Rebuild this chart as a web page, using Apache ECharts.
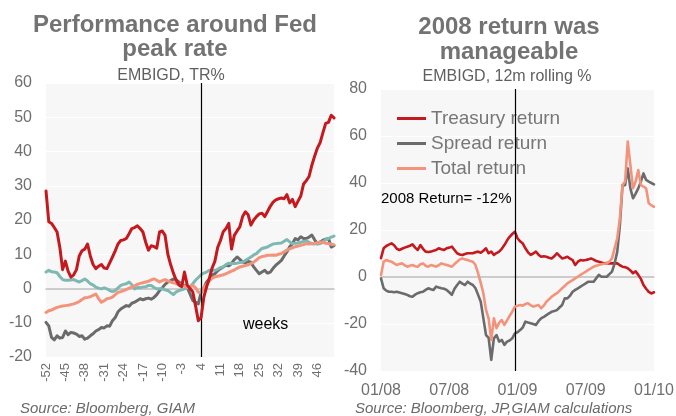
<!DOCTYPE html>
<html>
<head>
<meta charset="utf-8">
<script src="https://cdn.jsdelivr.net/npm/echarts@6/dist/echarts.min.js"></script>
<style>
  html, body { margin: 0; padding: 0; background: #ffffff; }
  #chart { width: 676px; height: 416px; }
</style>
</head>
<body>
<div id="chart"></div>
<script>
// ---- Left panel: EMBIGD total return around the Fed peak rate (weeks -52..52) ----
const leftWeeks = [];
for (let w = -52; w <= 52; w++) leftWeeks.push(String(w));
const leftPeakWeek = '4';

const leftRed = [
  28.5, 19.5, 19, 17.8, 16.5, 12, 5.5, 8, 5, 3.3, 4, 5.5, 9.5, 11, 11.5, 13, 9.5, 7, 5.8, 6.5,
  7, 6, 5.8, 7.5, 9.2, 11, 13, 14, 14.2, 14.6, 16, 17.5, 17.8, 18.3, 17.5, 16.5, 13.5, 11.2, 12.5, 12.2,
  11.8, 16.5, 16.8, 15.5, 10, 7, 4.5, 2.5, 1, 0.5, 4.8, 1,
  0, -1, -5, -9.4, -8.5, -2.5, 0.5, 3, 6, 8, 12, 14, 16.6, 17.5, 19, 11.5, 15.5, 16.8, 18, 21,
  22.4, 21.5, 18.5, 20, 21, 21.8, 22, 21, 22.5, 24, 25.2, 25.9, 26.2, 26.4, 26.2, 27.4, 25, 26, 23.9, 25.5,
  27, 30.5, 31.5, 32.7, 36, 38.6, 41, 42.6, 45.5, 48.2, 48.5, 50.6, 49.8
];
const leftGray = [
  -9.9, -10.9, -14.3, -15, -13.8, -14.5, -14.3, -12.4, -13.5, -12.8, -13, -13.3, -14, -13.8, -14.8, -14.5, -13.8, -13.2, -12.4, -12,
  -11.4, -11.5, -10.9, -11, -9.4, -8.5, -6.8, -6, -5.5, -5, -5.2, -4.3, -4, -3.5, -3, -3.3, -3, -2.8, -3.1, -2.6,
  -1.8, -0.6, 0.2, 1.2, 1.9, 2.3, 2.8, 2.5, 1.9, 1.2, 0.9, 0.3,
  -1.6, -3.5, -4, -4.5, -1.1, 0.2, 1.9, 2.8, 4, 4.3, 5.2, 5.8, 6.3, 6.8, 6.6, 7.3, 8.4, 9.2, 8.5, 7.7,
  7.5, 7.9, 7.7, 6.3, 5.3, 4.3, 4.8, 5.3, 4.5, 4.8, 5.9, 6.8, 7.5, 8.2, 9.5, 10.7, 12.2, 13.1, 14.6, 14.2,
  15.1, 14.6, 14.6, 15, 15.6, 14.2, 13.1, 13.6, 14.1, 14.4, 14.6, 12.1, 12.5
];
const leftTeal = [
  4.8, 5.3, 4.9, 4.8, 4.6, 3.5, 2.6, 2.4, 2.4, 2.5, 2.6, 2.2, 1.9, 2.3, 2.8, 2.2, 1.4, 1.0, 0.4, 0.1,
  -0.1, 0.2, -0.1, -0.6, -0.9, -0.6, 0.2, 0.9, 1.2, 1.4, 1.9, 1.1, -0.1, 0.3, 0.2, 0.4, 0.5, 0.9, 0.9, 0.3,
  -0.1, -0.1, -0.1, -0.4, -0.6, -1.2, -1.8, -1.0, -0.6, -0.4, -0.1, 0.2,
  0.4, 1.4, 2.4, 3.2, 4.0, 4.5, 4.8, 5.3, 5.3, 5.3, 5.6, 6.1, 6.3, 7.0, 7.4, 7.3, 7.3, 7.4, 7.6, 7.7,
  8.2, 8.7, 9.2, 9.8, 10.2, 11.0, 11.7, 11.9, 12.1, 12.6, 13.0, 13.1, 13.2, 13.3, 13.8, 14.3, 13.6, 13.1, 13.2, 13.3,
  13.5, 13.7, 13.9, 13.5, 13.1, 13.1, 13.0, 13.1, 13.6, 14.3, 14.6, 15.0, 15.3
];
const leftSalmon = [
  -7.0, -6.5, -6.3, -5.9, -5.5, -5.3, -5.1, -5.0, -4.9, -4.7, -4.5, -4.2, -3.8, -3.2, -2.7, -2.6, -2.4, -2.0, -1.6, -3.0,
  -4.0, -3.6, -3.0, -2.8, -2.5, -1.8, -1.1, -0.9, -0.6, -0.3, 0.1, 0.4, 0.8, 1.2, 1.5, 1.7, 1.9, 2.1, 2.5, 2.8,
  2.4, 1.9, 2.3, 2.6, 2.2, 1.9, 1.7, 1.4, 1.2, 0.9, 0.7, 0.4,
  0.6, 0.9, 0.2, -1.1, -1.1, 0.2, 1.2, 2.2, 3.0, 3.4, 3.6, 3.8, 4.0, 4.3, 4.7, 5.1, 5.4, 5.9, 6.3, 6.5,
  6.7, 6.9, 7.3, 7.7, 8.3, 9.0, 9.3, 9.5, 9.7, 9.7, 9.8, 9.7, 10.0, 10.2, 10.7, 11.2, 11.6, 11.9, 12.2, 12.4,
  12.6, 12.8, 13.1, 13.0, 13.1, 13.1, 13.4, 13.6, 13.5, 13.2, 13.1, 12.9, 12.8
];

// ---- Right panel: EMBIGD 12m rolling returns, weekly Jan 2008 .. Jan 2010 ----
const rightDates = [];
{
  const d0 = Date.UTC(2008, 0, 4);
  for (let i = 0; i < 105; i++) {
    const d = new Date(d0 + i * 7 * 86400000);
    rightDates.push(d.toISOString().slice(0, 10));
  }
}
const rightTickLabels = ['01/08', '07/08', '01/09', '07/09', '01/10'];
const rightTickStep = 26;
const rightMarkDate = rightDates[51];

const treasuryReturn = [
  8, 12.2, 13.2, 13.8, 14.3, 13.5, 12, 11.5, 12, 12.5, 12.9, 13.3, 13.9, 12.5, 11.5, 13.6, 12, 10.8, 10.6, 10.8,
  11.2, 11.5, 12.2, 11.8, 11.5, 12.2, 12.5, 12.9, 11.5, 10.1, 9.6, 9.4, 9.8, 10.1, 10.1, 10.1, 10.5, 10.8, 10.3, 11.2,
  12.2, 10.1, 10.8, 9.4, 10.2, 10.8, 12, 13.6, 15.5, 17.1, 18.3, 19.3, 16.5, 15.2, 14.3, 12.2, 10.5, 9.4, 10, 10.8,
  9.5, 8.6, 8.8, 8.6, 8.2, 7.9, 8.8, 10.1, 9, 7.9, 8.2, 8.6, 7.8, 7.2, 5.1, 6.5, 7.2, 7, 7.2, 7.5,
  7.9, 7.4, 6.8, 6.5, 6.2, 5.8, 5.9, 5.8, 5.8, 5.9, 5.8, 5, 4.4, 4.2, 3.7, 2.8, 1.6, 2.4, 0.9, -0.8,
  -3.4, -5, -6.3, -7, -6.5
];
const spreadReturn = [
  -0.6, -4.8, -5.8, -6.3, -6.3, -6.5, -6.3, -6.6, -6.9, -7.2, -7.6, -8.2, -8.4, -7.5, -6.9, -6.5, -6.3, -5.5, -4.8, -5.2,
  -5.5, -4.1, -4.5, -4.8, -5.0, -5.5, -6.5, -7.6, -5, -3.4, -2, -2.8, -3.4, -2, -2.8, -3.4, -4.8, -7.6, -10.5, -17.6,
  -24.7, -25.9, -35.3, -26.1, -24.7, -27.5, -26.8, -28.9, -27.5, -27, -26.1, -24.0, -23.5, -22.6, -21.5, -19, -19.4, -19.7, -20, -20.4,
  -18.8, -17.6, -17, -16.2, -15.5, -14.8, -14.5, -14.1, -13, -11.9, -9.1, -9.1, -8, -6.3, -5.5, -4.8, -4.1, -3.4, -2.7, -2,
  -2, -2, -0.5, 0.9, 0.1, 0.1, 0.1, 1.2, 2.3, 5.8, 10.8, 22.1, 39.1, 39.1, 46.2, 37.7, 33.5, 35.5, 37.7, 40.6,
  44.1, 41.3, 40.6, 40, 39.4
];
const totalReturn = [
  0.9, 6.5, 7.2, 6.8, 6.5, 5.8, 5.1, 5.5, 5.8, 5.0, 4.4, 4.8, 5.1, 4.6, 4.4, 5.4, 5.8, 4.8, 4.4, 5.1,
  4.8, 4.4, 5.0, 5.8, 5.4, 5.1, 4.8, 4.4, 5.5, 6.5, 7.5, 7.9, 7.5, 7.2, 6.8, 6.5, 5.1, 1.5, -2.5, -7,
  -14, -17.6, -26.8, -17.6, -21.8, -19.5, -18.3, -20.4, -18.5, -16.5, -14.8, -12.6, -12.2, -11.9, -12.2, -11.5, -11.2, -12, -12.6, -12.2,
  -11.9, -13.3, -12.2, -10.5, -9.5, -8.4, -7.6, -6.9, -5.9, -4.8, -3.8, -2.7, -2, -1.3, -0.6, 0.1, 0.9, 1.6, 2.3, 3,
  3.7, 4.4, 4.8, 5.1, 5.4, 5.6, 5.8, 6.5, 7.9, 12.2, 16.5, 25, 39.1, 40.6, 57.6, 47.7, 37.7, 40.6, 45.5, 39.1,
  38.5, 37.7, 31.4, 30.5, 29.9
];

// ---- Styling ----
const FONT = '"Liberation Sans", Arial, Helvetica, sans-serif';
const C_RED = '#c41a1f';
const C_GRAY = '#6b6b6b';
const C_TEAL = '#7db8b3';
const C_SALMON = '#f4937b';
const C_LABEL = '#6f6f6f';
const C_TITLE = '#737373';

const gridBase = { show: true, backgroundColor: '#f7f7f7', borderWidth: 0, containLabel: false, outerBoundsMode: 'none' };

function yAxisCfg(gridIndex, min, max, interval) {
  return {
    type: 'value', gridIndex, min, max, interval,
    axisLine: { show: false }, axisTick: { show: false },
    axisLabel: { color: C_LABEL, fontFamily: FONT, fontSize: 16, margin: 14 },
    splitLine: { show: true, lineStyle: { color: '#ffffff', width: 1 } }
  };
}

function lineSeries(name, xi, data, color, width, z, extra) {
  return Object.assign({
    name, type: 'line', xAxisIndex: xi, yAxisIndex: xi, data,
    showSymbol: false, symbol: 'none', smooth: false, z,
    lineStyle: { color, width, join: 'round', cap: 'round' },
    itemStyle: { color },
    emphasis: { disabled: true }, animation: false
  }, extra || {});
}

function vMark(xValue) {
  return {
    silent: true, symbol: ['none', 'none'], animation: false,
    label: { show: false },
    lineStyle: { color: '#000000', width: 1.2, type: 'solid' },
    emphasis: { disabled: true },
    data: [{ xAxis: xValue }]
  };
}

function txt(text, x, y, size, opts) {
  opts = opts || {};
  return {
    type: 'text', x, y, silent: true, z: 100,
    style: {
      text, fill: opts.fill || C_LABEL,
      font: (opts.style || 'normal') + ' ' + (opts.weight || 'normal') + ' ' + size + 'px ' + FONT,
      align: opts.align || 'center', verticalAlign: 'middle'
    }
  };
}

const chart = echarts.init(document.getElementById('chart'), null, { renderer: 'canvas' });

chart.setOption({
  backgroundColor: '#ffffff',
  animation: false,
  grid: [
    Object.assign({ left: 46, right: 342, top: 83, bottom: 59 }, gridBase),
    Object.assign({ left: 381, right: 22, top: 89, bottom: 45 }, gridBase)
  ],
  xAxis: [
    {
      type: 'category', gridIndex: 0, data: leftWeeks, boundaryGap: false,
      axisLine: { show: true, lineStyle: { color: '#bdbdbd', width: 1.5 } },
      axisTick: { show: false },
      axisLabel: { interval: 6, rotate: 90, color: C_LABEL, fontFamily: FONT, fontSize: 13, margin: 6 },
      splitLine: { show: false }
    },
    {
      type: 'category', gridIndex: 1, data: rightDates, boundaryGap: false,
      axisLine: { show: true, lineStyle: { color: '#bdbdbd', width: 1.5 } },
      axisTick: { show: false },
      axisLabel: {
        interval: rightTickStep - 1, color: C_LABEL, fontFamily: FONT, fontSize: 16, margin: 12,
        formatter: (v, i) => rightTickLabels[Math.round(i / rightTickStep)] || ''
      },
      splitLine: { show: false }
    }
  ],
  yAxis: [
    yAxisCfg(0, -20, 60, 10),
    yAxisCfg(1, -40, 80, 20)
  ],
  legend: {
    data: ['Treasury return', 'Spread return', 'Total return'],
    orient: 'vertical', left: 397, top: 109,
    itemWidth: 29, itemHeight: 3, itemGap: 6, icon: 'rect',
    padding: 0, selectedMode: false,
    textStyle: { color: '#777777', fontFamily: FONT, fontSize: 19 }
  },
  series: [
    lineSeries('cycle-gray', 0, leftGray, C_GRAY, 3, 2),
    lineSeries('cycle-teal', 0, leftTeal, C_TEAL, 3, 3),
    lineSeries('cycle-salmon', 0, leftSalmon, C_SALMON, 3, 4),
    lineSeries('cycle-red', 0, leftRed, C_RED, 3, 5, { markLine: vMark(leftPeakWeek) }),
    lineSeries('Treasury return', 1, treasuryReturn, C_RED, 2.6, 3, { markLine: vMark(rightMarkDate) }),
    lineSeries('Spread return', 1, spreadReturn, C_GRAY, 2.6, 4),
    lineSeries('Total return', 1, totalReturn, C_SALMON, 2.6, 5)
  ],
  graphic: [
    txt('Performance around Fed', 175, 25.5, 24, { weight: 'bold', fill: C_TITLE }),
    txt('peak rate', 175, 49.5, 24, { weight: 'bold', fill: C_TITLE }),
    txt('EMBIGD, TR%', 171, 76, 16, { fill: '#5f5f5f' }),
    txt('2008 return was', 509, 27.5, 24, { weight: 'bold', fill: C_TITLE }),
    txt('manageable', 509, 52.5, 24, { weight: 'bold', fill: C_TITLE }),
    txt('EMBIGD, 12m rolling %', 507, 77, 16, { fill: '#5f5f5f' }),
    txt('2008 Return= -12%', 381, 199, 15, { fill: '#000000', align: 'left' }),
    txt('weeks', 243, 325, 16, { fill: '#000000', align: 'left' }),
    txt('Source: Bloomberg, GIAM', 20, 409, 15, { style: 'italic', fill: '#6a6a6a', align: 'left' }),
    txt('Source: Bloomberg, JP,GIAM calculations', 355, 409, 15, { style: 'italic', fill: '#6a6a6a', align: 'left' })
  ]
});
</script>
</body>
</html>
